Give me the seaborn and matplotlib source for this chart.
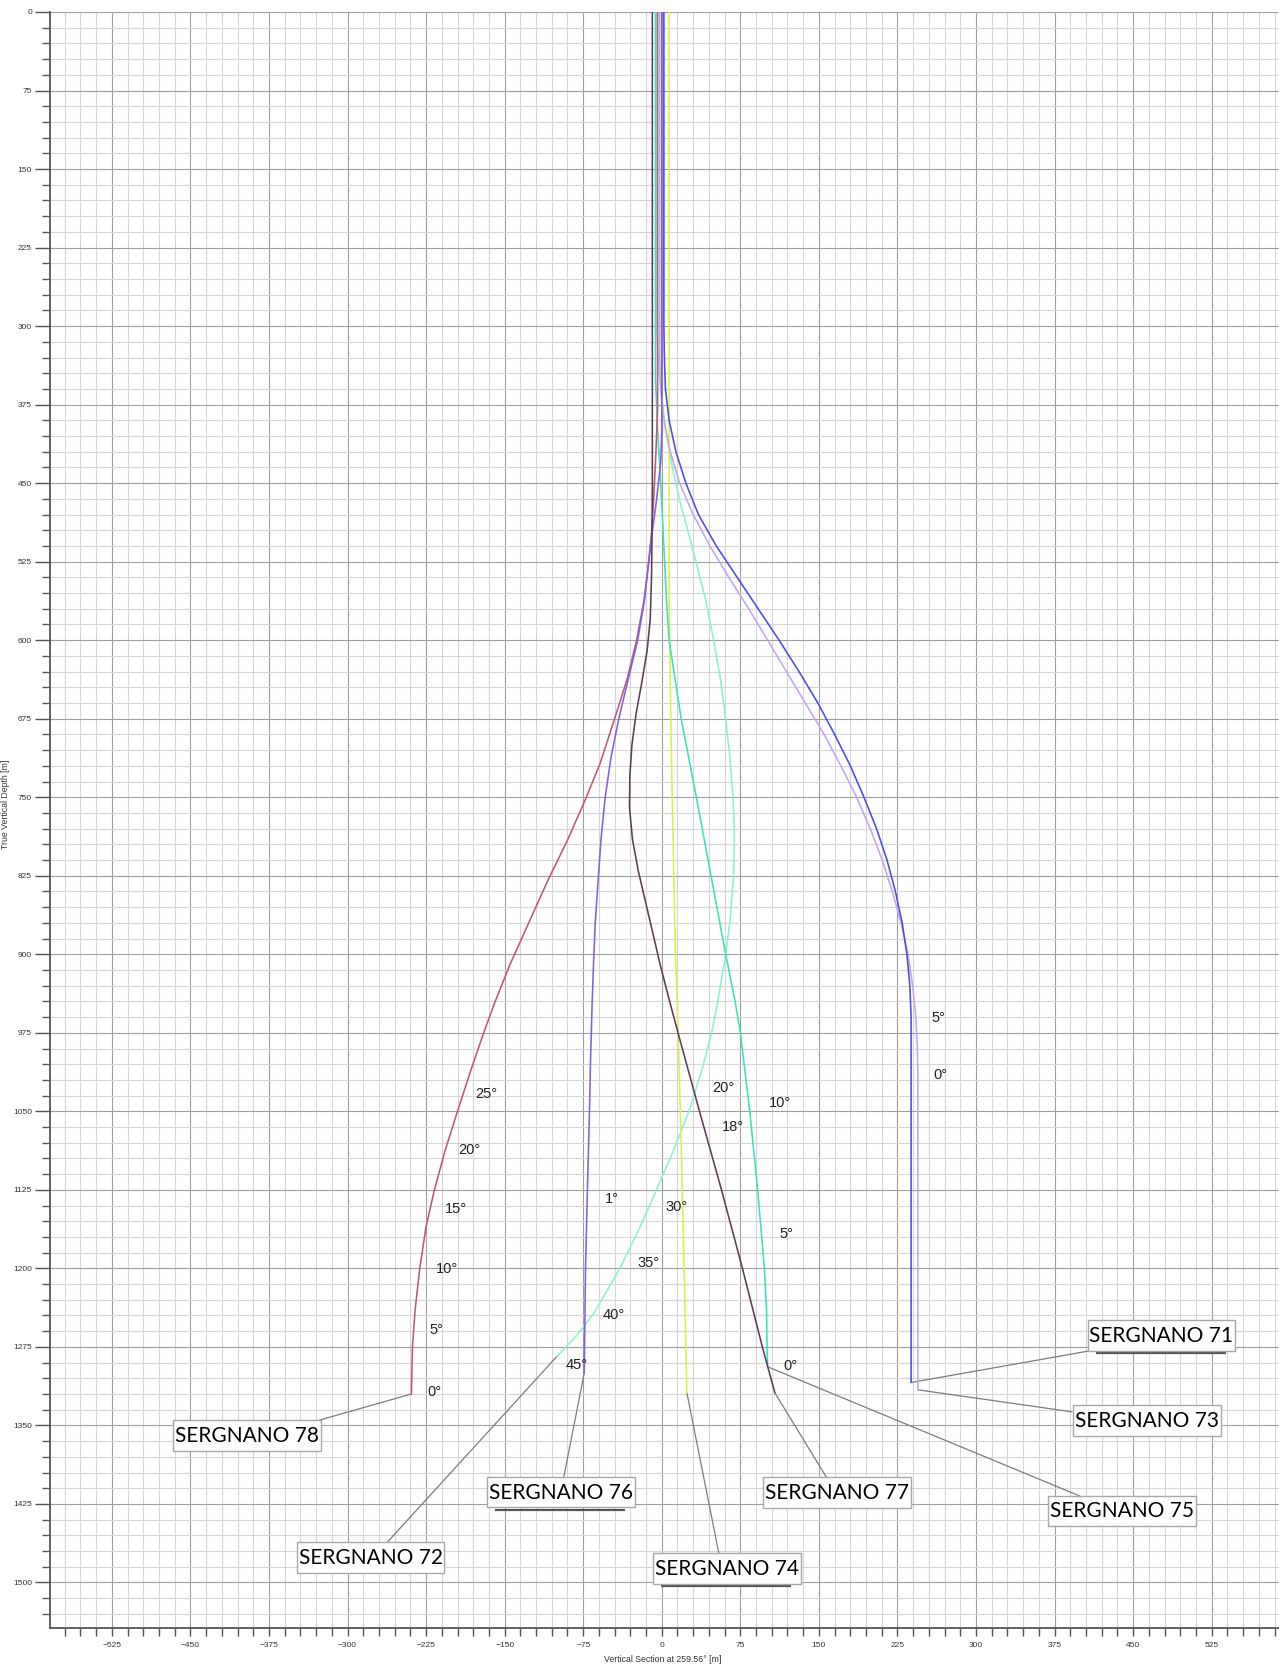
import numpy as np
import pandas as pd
import matplotlib
matplotlib.use("Agg")
import matplotlib.pyplot as plt
import seaborn as sns
from matplotlib.patches import Rectangle
from matplotlib.ticker import MultipleLocator

# ---------------- data ----------------
wells = ["SERGNANO 71", "SERGNANO 72", "SERGNANO 73", "SERGNANO 74",
         "SERGNANO 75", "SERGNANO 76", "SERGNANO 77", "SERGNANO 78"]

d71 = [0, 300, 330, 360, 390, 420, 450, 480, 510, 540, 570, 600, 630, 660, 690, 720, 750, 780, 810, 840, 870, 900, 930, 960, 1309]
x71 = [2, 2, 2.5, 3.5, 7, 13.5, 23, 35, 52, 72, 92, 112, 131, 149, 165, 180, 193, 205, 215, 223, 229.5, 234, 236.8, 238, 238]

d73 = [0, 330, 360, 390, 420, 450, 480, 510, 540, 570, 600, 630, 660, 690, 720, 750, 780, 810, 840, 870, 900, 930, 960, 990, 1020, 1316]
x73 = [-2, -2, -1, 2, 8, 17, 30, 46, 64, 83, 101, 119, 137, 155, 171, 186, 199, 210.5, 220, 228.5, 235, 239.5, 242.5, 244, 244.5, 244.5]

d78 = [0, 380, 430, 470, 500, 530, 562, 600, 637, 675, 718, 750, 790, 830, 870, 910, 945, 975, 1010, 1050, 1088, 1125, 1160, 1200, 1240, 1275, 1320]
x78 = [-4, -4, -6, -8, -10, -13, -17, -24, -33, -45, -59, -72, -89.5, -109, -127, -145, -159, -170, -182, -195, -207, -217, -225, -231, -235.5, -238, -239]

d76 = [0, 400, 430, 466, 500, 530, 562, 600, 637, 675, 712, 750, 790, 833, 870, 910, 945, 1000, 1050, 1125, 1200, 1275, 1300]
x76 = [0, 0, -1, -5, -9.5, -13, -16.5, -23, -32, -41, -48.5, -54, -58, -61, -63.5, -65.2, -66.4, -68, -69, -71, -72.8, -73.7, -74]

d77 = [0, 450, 500, 540, 580, 610, 640, 670, 700, 730, 760, 790, 820, 850, 880, 910, 945, 975, 1050, 1125, 1200, 1275, 1319]
x77 = [-9, -9, -9.3, -9.8, -11, -14, -19, -24.5, -28.5, -30.5, -30.8, -28, -22.5, -15.5, -8.5, -1.5, 7.5, 15.5, 36, 57, 77, 96, 108]

d75 = [0, 350, 400, 450, 500, 562, 600, 675, 750, 825, 900, 945, 975, 1050, 1125, 1200, 1240, 1275, 1294]
x75 = [-6, -6, -4, -1, 1.5, 4.5, 7, 18.5, 33, 47, 61, 70, 75, 84, 91.5, 98, 100, 100.5, 101]

d72 = [0, 300, 340, 370, 400, 430, 466, 500, 530, 562, 600, 637, 675, 712, 750, 785, 825, 865, 900, 945, 975, 1008, 1050, 1088, 1125, 1161, 1200, 1243, 1265, 1284]
x72 = [-5, -5, -3, 0, 4, 9, 17, 26, 34, 42, 49.5, 56, 61, 65, 68, 69.3, 68.5, 65.5, 61, 53.5, 47.5, 39, 26, 11, -5, -21, -40, -65, -82, -100]

d74 = [0, 560, 700, 900, 960, 1100, 1319]
x74 = [7, 7, 9, 13, 15.3, 19, 24]

well_colors = {"SERGNANO 71": "#4b4be8", "SERGNANO 72": "#8ef2cc",
               "SERGNANO 73": "#c4a4f2", "SERGNANO 74": "#d8f24c",
               "SERGNANO 75": "#3ee0b8", "SERGNANO 76": "#8660d6",
               "SERGNANO 77": "#5c3c5c", "SERGNANO 78": "#b85a78"}

# inclination annotations: text, x, depth
angle_text = ["25°", "20°", "15°", "10°", "5°", "0°",
              "1°", "30°", "35°", "40°", "45°",
              "20°", "18°", "10°", "5°", "0°", "5°", "0°"]
angle_x = [-178, -194.5, -206.6, -215.5, -222, -224,
           -54, 4, -23.6, -56, -91.5,
           48, 57, 102, 112, 116, 257, 259]
angle_d = [1033, 1087, 1143, 1201, 1259, 1318,
           1134, 1141.5, 1195, 1245, 1292,
           1028, 1065, 1042.5, 1167, 1293, 961, 1015]

y_ticks = list(range(0, 1501, 75))
x_ticks = list(range(-525, 526, 75))

# ---------------- layout constants ----------------
# label box centre (x, depth), leader end on box (x, depth), shadow flag
label_box = {
    "SERGNANO 78": ((-396, 1359.6), (-327, 1345), False),
    "SERGNANO 72": ((-278, 1476), (-261.5, 1461), False),
    "SERGNANO 76": ((-96.4, 1413.6), (-93.5, 1399), True),
    "SERGNANO 74": ((62, 1486.6), (54.4, 1471.8), True),
    "SERGNANO 77": ((167.5, 1414.5), (157.5, 1400), False),
    "SERGNANO 75": ((439, 1431.7), (399, 1417.4), False),
    "SERGNANO 73": ((463, 1345.3), (391.4, 1337), False),
    "SERGNANO 71": ((477, 1264), (413, 1278), True),
}
BOX_W, BOX_H = 141, 29.5

# ---------------- figure ----------------
sns.set_theme(style="white")
plt.rcParams["font.family"] = ["Liberation Sans", "DejaVu Sans"]

W, H = 1279, 1666
fig = plt.figure(figsize=(W / 100, H / 100), dpi=100)
ax = fig.add_axes([50 / W, 1 - 1628 / H, 1229 / W, 1616 / H])
ax.set_facecolor("white")

traj = {"SERGNANO 71": (d71, x71), "SERGNANO 72": (d72, x72),
        "SERGNANO 73": (d73, x73), "SERGNANO 74": (d74, x74),
        "SERGNANO 75": (d75, x75), "SERGNANO 76": (d76, x76),
        "SERGNANO 77": (d77, x77), "SERGNANO 78": (d78, x78)}
rows = []
for w in wells:
    dd, xx = traj[w]
    for i, (a, b) in enumerate(zip(dd, xx)):
        rows.append({"well": w, "order": i, "depth": a, "x": b})
df = pd.DataFrame(rows)

draw_order = ["SERGNANO 72", "SERGNANO 74", "SERGNANO 75", "SERGNANO 73",
              "SERGNANO 71", "SERGNANO 78", "SERGNANO 76", "SERGNANO 77"]
for w in draw_order:
    sub = df[df["well"] == w]
    sns.lineplot(data=sub, x="x", y="depth", sort=False, estimator=None,
                 color=well_colors[w], lw=1.15, ax=ax, zorder=3)

# leader lines + label boxes
for w in wells:
    dd, xx = traj[w]
    (cx, cy), (lx, ly), shadow = label_box[w]
    ax.plot([xx[-1], lx], [dd[-1], ly], color="#7c7c7c", lw=0.9, zorder=2)
    if shadow:
        ax.plot([cx - BOX_W / 2 + 8, cx + BOX_W / 2 - 9],
                [cy + BOX_H / 2 + 2, cy + BOX_H / 2 + 2],
                color="#555555", lw=1.6, zorder=4, solid_capstyle="butt")
    ax.add_patch(Rectangle((cx - BOX_W / 2, cy - BOX_H / 2), BOX_W, BOX_H,
                           facecolor="white", edgecolor="#a8a8a8", lw=1.0, zorder=5))
    ax.text(cx, cy + 0.5, w, ha="center", va="center", fontsize=15,
            family=["Lato", "DejaVu Sans"], color="black", zorder=6)

for t, xa, da in zip(angle_text, angle_x, angle_d):
    ax.text(xa, da, t, ha="left", va="center", fontsize=10.5, color="#222222", zorder=6)

# axes, grid and ticks
ax.set_xlim(-584, 589.2)
ax.set_ylim(1543.5, 0)
ax.xaxis.set_major_locator(MultipleLocator(75))
ax.xaxis.set_minor_locator(MultipleLocator(15))
ax.yaxis.set_major_locator(MultipleLocator(75))
ax.yaxis.set_minor_locator(MultipleLocator(15))
ax.set_xticks(x_ticks)
ax.set_yticks(y_ticks)
ax.grid(which="minor", color="#d6d6d6", lw=0.8, zorder=0)
ax.grid(which="major", color="#9e9e9e", lw=0.8, zorder=1)
ax.set_axisbelow(True)
ax.tick_params(axis="y", which="major", length=11, width=1, color="#555555",
               labelsize=6, labelcolor="#333333", pad=2, left=True)
ax.tick_params(axis="y", which="minor", length=6, width=1, color="#555555", left=True)
ax.tick_params(axis="x", which="both", length=6, width=1, color="#555555",
               labelsize=6, labelcolor="#333333", pad=4, bottom=True)
for s in ["top", "right"]:
    ax.spines[s].set_visible(False)
for s in ["left", "bottom"]:
    ax.spines[s].set_color("#555555")
    ax.spines[s].set_linewidth(1.3)
ax.set_xlabel("")
ax.set_ylabel("")

fig.text(663 / W, 1 - 1660 / H, "Vertical Section at 259.56° [m]", ha="center",
         va="center", fontsize=6.3, color="#333333")
fig.text(6 / W, 1 - 804 / H, "True Vertical Depth [m]", ha="center", va="center",
         rotation=90, fontsize=6.3, color="#333333")

fig.savefig("out.png", dpi=100, facecolor="white")
